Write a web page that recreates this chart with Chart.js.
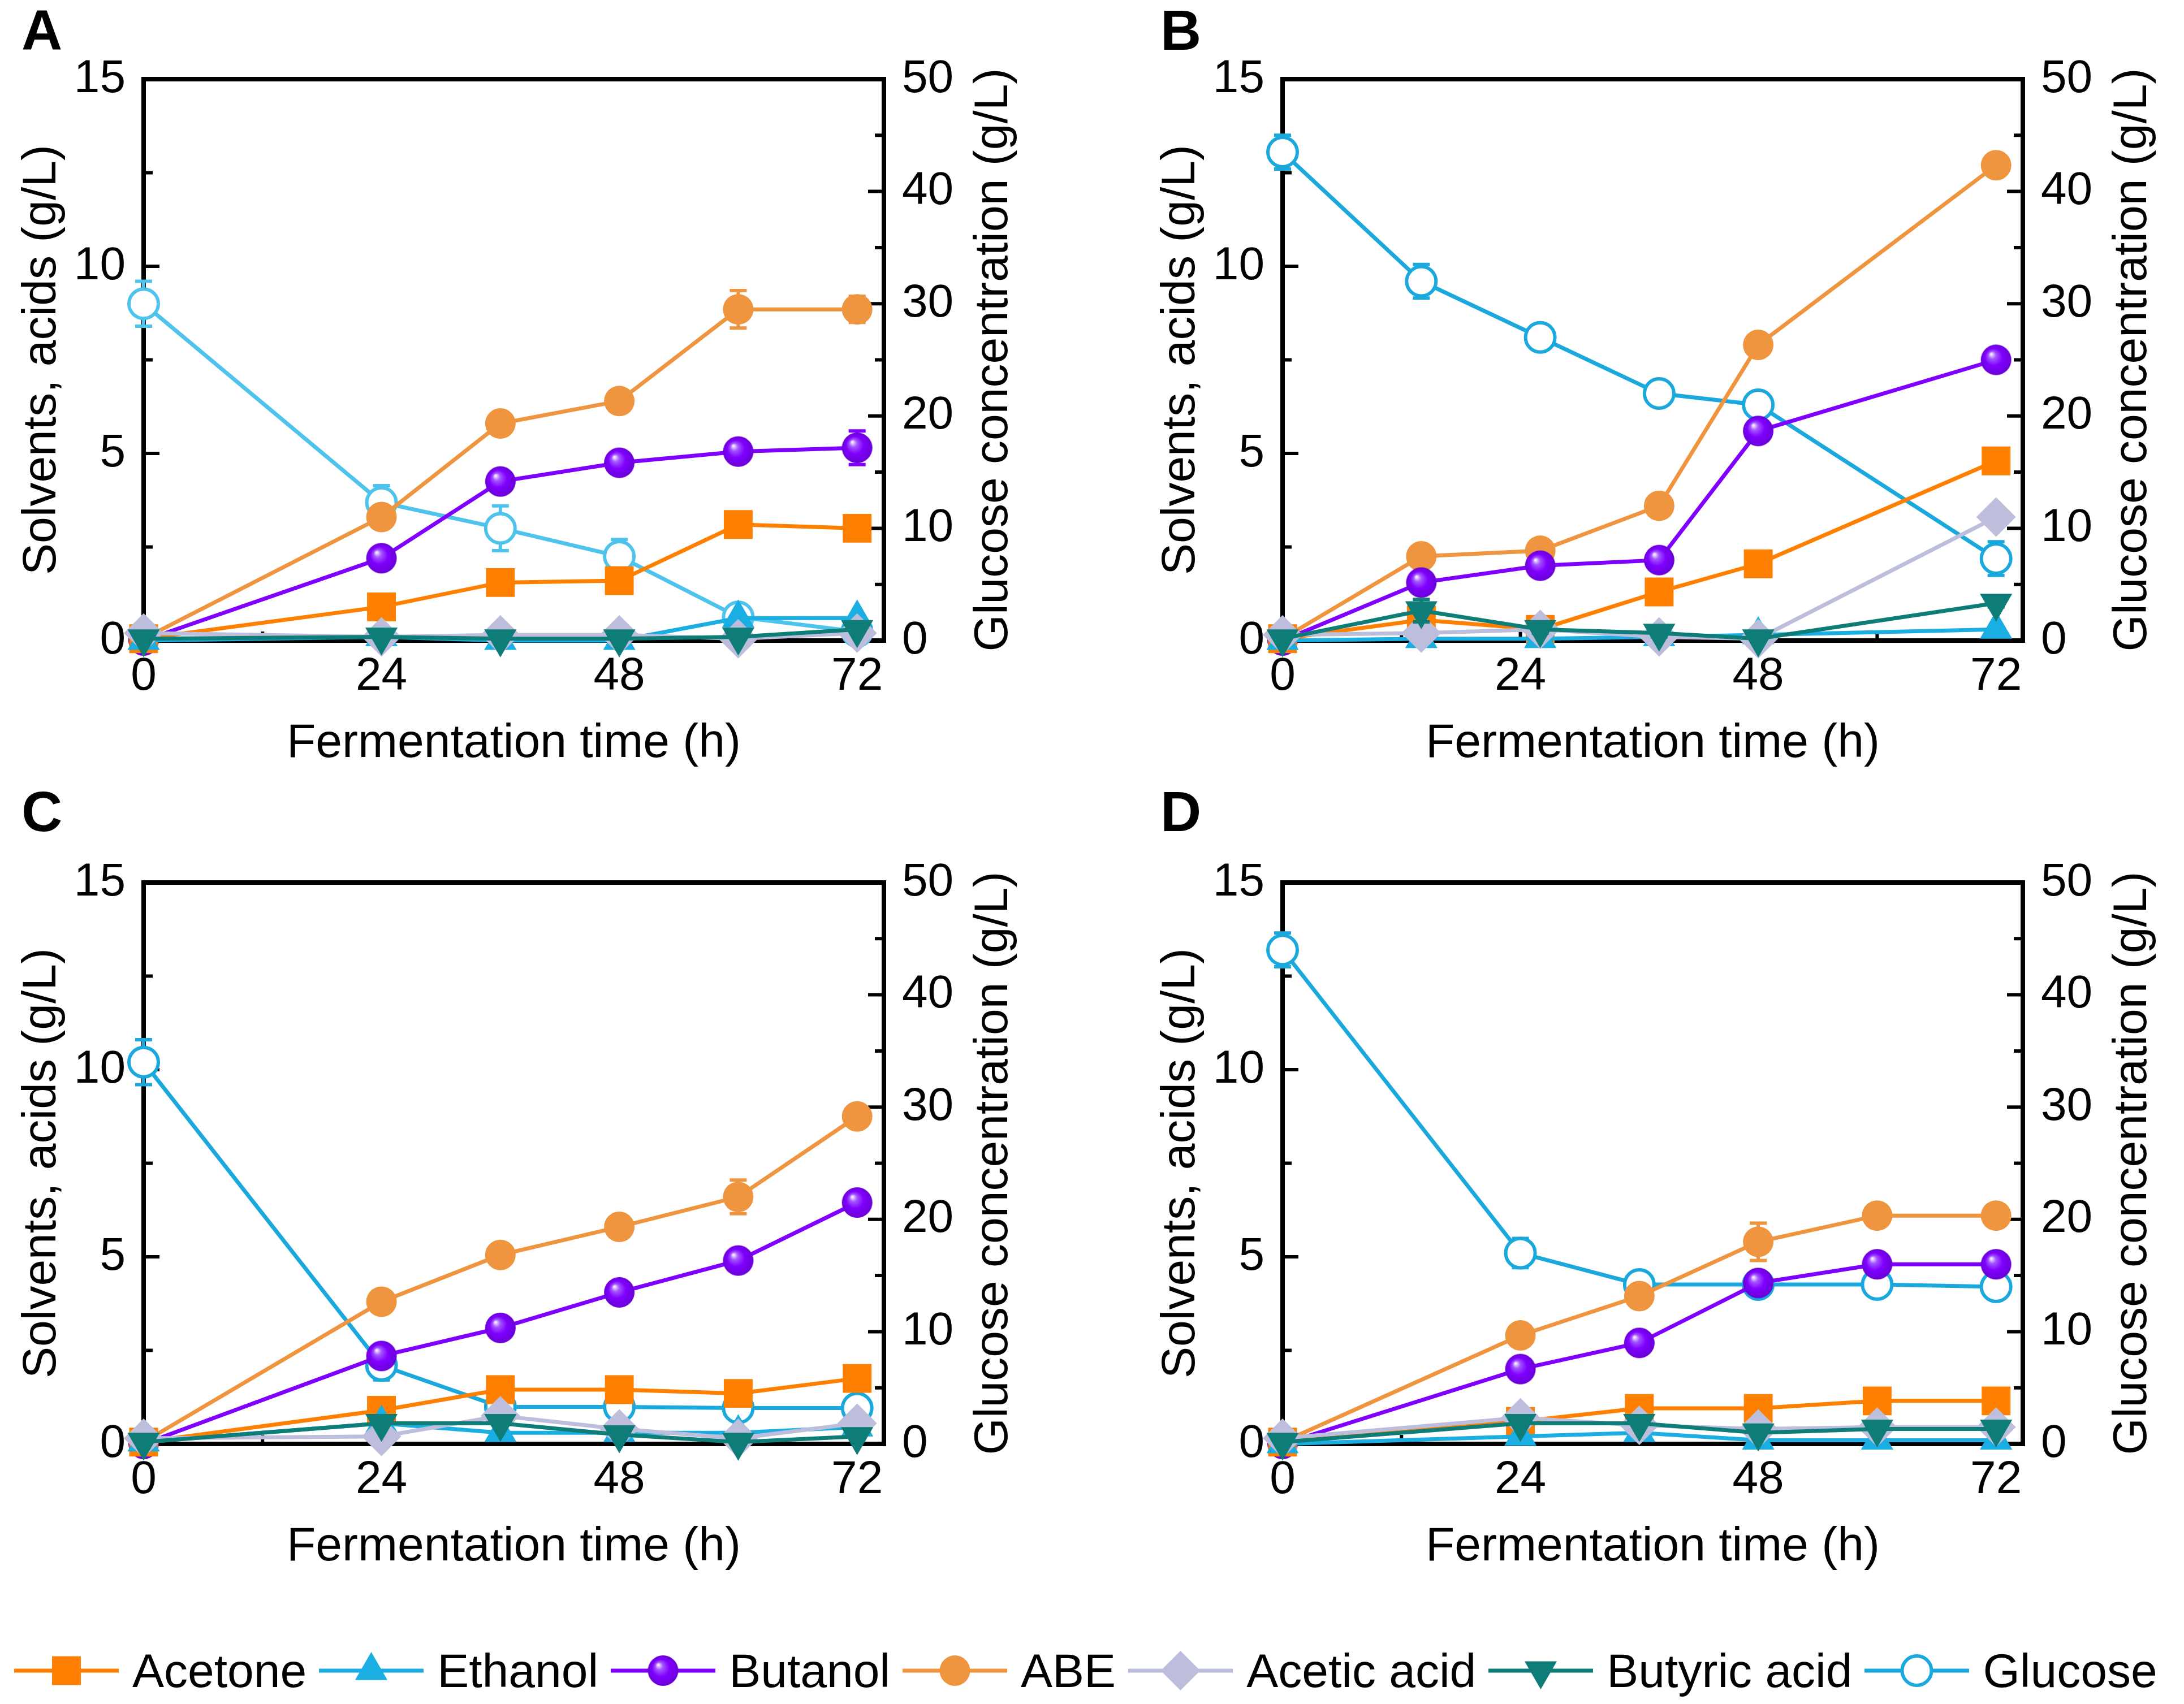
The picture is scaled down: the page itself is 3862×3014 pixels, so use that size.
<!DOCTYPE html>
<html lang="en">
<head>
<meta charset="UTF-8">
<title>ABE fermentation profiles</title>
<script src="https://cdn.jsdelivr.net/npm/chart.js"></script>
<style>
  html, body { margin: 0; padding: 0; background: #fff; }
  body {
    width: 3862px;
    height: 3014px;
    position: relative;
    overflow: hidden;
    font-family: "Liberation Sans", Arial, sans-serif;
    color: #000;
  }
  .panel { position: absolute; width: 1853px; height: 1400px; }
  .letter { position: absolute; font-weight: bold; font-size: 100px; line-height: 100px; }
  #legend { position: absolute; left: 25px; top: 2913px; display: flex; align-items: center; }
  .item { display: flex; align-items: center; margin-right: 22px; }
  .item canvas { margin-right: 24px; }
  .item span { font-size: 84px; line-height: 84px; white-space: nowrap; }
</style>
</head>
<body>

  <div class="letter" style="left:38px; top:3px;">A</div>
  <div class="letter" style="left:2052px; top:3px;">B</div>
  <div class="letter" style="left:38px; top:1385px;">C</div>
  <div class="letter" style="left:2052px; top:1385px;">D</div>

  <div class="panel" style="left:0; top:0;"><canvas id="chartA" width="1853" height="1400"></canvas></div>
  <div class="panel" style="left:2014px; top:0;"><canvas id="chartB" width="1853" height="1400"></canvas></div>
  <div class="panel" style="left:0; top:1421px;"><canvas id="chartC" width="1853" height="1400"></canvas></div>
  <div class="panel" style="left:2014px; top:1421px;"><canvas id="chartD" width="1853" height="1400"></canvas></div>

  <div id="legend"></div>

<script>
// sampling times (h)
const timesA = [0, 24, 36, 48, 60, 72];
const timesB = [0, 14, 26, 38, 48, 72];
const timesC = [0, 24, 36, 48, 60, 72];
const timesD = [0, 24, 36, 48, 60, 72];

// tick positions
const xTicks = [0, 12, 24, 36, 48, 60, 72];
const yTicks = [0, 2.5, 5, 7.5, 10, 12.5, 15];
const y1Ticks = [0, 5, 10, 15, 20, 25, 30, 35, 40, 45, 50];

const seriesNames = ['Acetone', 'Ethanol', 'Butanol', 'ABE', 'Acetic acid', 'Butyric acid', 'Glucose'];

// panel A
const acetoneA = [0.05, 0.9, 1.55, 1.6, 3.1, 3.0];
const ethanolA = [0.0, 0.1, 0.0, 0.0, 0.6, 0.6];
const butanolA = [0.0, 2.2, 4.25, 4.75, 5.05, 5.15];
const abeA     = [0.05, 3.3, 5.8, 6.4, 8.85, 8.85];
const aceticA  = [0.2, 0.1, 0.15, 0.15, 0.05, 0.2];
const butyricA = [0.05, 0.1, 0.05, 0.05, 0.1, 0.3];
const glucoseA = [30.0, 12.3, 10.0, 7.5, 2.1, 0.8];
const glucoseErrA = [2.0, 1.5, 2.0, 1.5, 0.3, 0.3];
const abeErrA     = [0, 0.2, 0.2, 0.3, 0.5, 0.35];
const butanolErrA = [0, 0.2, 0.2, 0.25, 0.3, 0.45];
const acetoneErrA = [0, 0.15, 0.2, 0.2, 0.2, 0.2];

// panel B
const acetoneB = [0.05, 0.55, 0.3, 1.3, 2.05, 4.8];
const ethanolB = [0.0, 0.05, 0.05, 0.1, 0.15, 0.3];
const butanolB = [0.0, 1.55, 2.0, 2.15, 5.6, 7.5];
const abeB     = [0.05, 2.25, 2.4, 3.6, 7.9, 12.7];
const aceticB  = [0.15, 0.2, 0.3, 0.1, 0.05, 3.3];
const butyricB = [0.05, 0.8, 0.3, 0.2, 0.05, 1.0];
const glucoseB = [43.5, 32.0, 27.0, 22.0, 21.0, 7.3];
const glucoseErrB = [1.5, 1.5, 1.0, 1.0, 1.0, 1.5];
const abeErrB     = [0, 0.2, 0.2, 0.2, 0.2, 0.2];
const butanolErrB = [0, 0.2, 0.2, 0.2, 0.25, 0.2];
const acetoneErrB = [0, 0.2, 0.2, 0.2, 0.2, 0.2];
const butyricErrB = [0, 0.3, 0.1, 0.1, 0.05, 0.1];

// panel C
const acetoneC = [0.05, 0.9, 1.45, 1.45, 1.35, 1.75];
const ethanolC = [0.05, 0.55, 0.3, 0.3, 0.3, 0.45];
const butanolC = [0.0, 2.35, 3.1, 4.05, 4.9, 6.45];
const abeC     = [0.05, 3.8, 5.05, 5.8, 6.6, 8.75];
const aceticC  = [0.15, 0.2, 0.75, 0.4, 0.15, 0.55];
const butyricC = [0.05, 0.55, 0.55, 0.25, 0.05, 0.2];
const glucoseC = [34.0, 7.0, 3.3, 3.3, 3.2, 3.2];
const glucoseErrC = [2.0, 1.3, 0.3, 0.5, 0.5, 0.8];
const abeErrC     = [0, 0.25, 0.2, 0.2, 0.45, 0.2];
const butanolErrC = [0, 0.2, 0.2, 0.2, 0.2, 0.2];
const acetoneErrC = [0, 0.15, 0.15, 0.15, 0.15, 0.15];

// panel D
const acetoneD = [0.05, 0.6, 0.95, 0.95, 1.15, 1.15];
const ethanolD = [0.0, 0.2, 0.3, 0.1, 0.1, 0.1];
const butanolD = [0.0, 2.0, 2.7, 4.3, 4.8, 4.8];
const abeD     = [0.05, 2.9, 3.95, 5.4, 6.1, 6.1];
const aceticD  = [0.15, 0.7, 0.5, 0.4, 0.45, 0.45];
const butyricD = [0.05, 0.55, 0.55, 0.3, 0.4, 0.4];
const glucoseD = [44.0, 17.0, 14.2, 14.2, 14.2, 14.0];
const glucoseErrD = [1.5, 1.3, 0.8, 0.8, 0.8, 0.8];
const abeErrD     = [0, 0.2, 0.3, 0.5, 0.25, 0.25];
const butanolErrD = [0, 0.2, 0.2, 0.2, 0.2, 0.2];
const acetoneErrD = [0, 0.15, 0.1, 0.15, 0.2, 0.2];

Chart.defaults.font.family = '"Liberation Sans", Arial, sans-serif';
Chart.defaults.color = '#000';

// shaded purple ball for butanol
function makeSphere(r) {
  const c = document.createElement('canvas');
  c.width = c.height = 2 * r + 2;
  const g = c.getContext('2d');
  const cx = r + 1, cy = r + 1;
  const grad = g.createRadialGradient(cx - r * 0.32, cy - r * 0.38, r * 0.04, cx, cy, r);
  grad.addColorStop(0, '#f6ecff');
  grad.addColorStop(0.22, '#a455ff');
  grad.addColorStop(0.55, '#8000ff');
  grad.addColorStop(1, '#6a00d6');
  g.fillStyle = grad;
  g.beginPath();
  g.arc(cx, cy, r, 0, Math.PI * 2);
  g.fill();
  return c;
}
const sphere = makeSphere(27);

const styles = {
  'Acetone':      { color: '#ff7f00', pointStyle: 'rect', radius: 36, order: 4 },
  'Ethanol':      { color: '#1aaee3', pointStyle: 'triangle', radius: 33, order: 3 },
  'Butanol':      { color: '#8000ff', pointStyle: sphere, radius: 27, order: 5 },
  'ABE':          { color: '#f0953f', pointStyle: 'circle', radius: 27, order: 6 },
  'Acetic acid':  { color: '#bdbddc', pointStyle: 'rectRot', radius: 35, order: 2 },
  'Butyric acid': { color: '#0e7d77', pointStyle: 'triangle', rotation: 180, radius: 33, order: 1 },
  'Glucose':      { color: '#1ba8dc', pointStyle: 'circle', radius: 26, open: true, order: 7 }
};

function buildDatasets(times, values, errors, glucoseColor) {
  return seriesNames.map(name => {
    const s = styles[name];
    const color = (name === 'Glucose' && glucoseColor) ? glucoseColor : s.color;
    return {
      label: name,
      data: times.map((t, i) => ({ x: t, y: values[name][i] })),
      errors: errors[name] || null,
      yAxisID: name === 'Glucose' ? 'y1' : 'y',
      borderColor: color,
      borderWidth: 7,
      tension: 0,
      pointStyle: s.pointStyle,
      pointRotation: s.rotation || 0,
      pointRadius: s.radius,
      pointBackgroundColor: s.open ? '#ffffff' : color,
      pointBorderColor: color,
      pointBorderWidth: s.open ? 6 : 0,
      order: s.order,
      clip: false
    };
  });
}

// error bars drawn under each series
const errorBars = {
  id: 'errorBars',
  beforeDatasetDraw(chart, args) {
    const ds = chart.data.datasets[args.index];
    if (!ds.errors) return;
    const yScale = chart.scales[ds.yAxisID];
    const ctx = chart.ctx;
    ctx.save();
    ctx.strokeStyle = ds.borderColor;
    ctx.lineWidth = 6;
    ds.data.forEach((p, i) => {
      const e = ds.errors[i];
      if (!e) return;
      const x = args.meta.data[i].x;
      const top = yScale.getPixelForValue(p.y + e);
      const bot = yScale.getPixelForValue(p.y - e);
      ctx.beginPath();
      ctx.moveTo(x, top); ctx.lineTo(x, bot);
      ctx.moveTo(x - 15, top); ctx.lineTo(x + 15, top);
      ctx.moveTo(x - 15, bot); ctx.lineTo(x + 15, bot);
      ctx.stroke();
    });
    ctx.restore();
  }
};

// box frame with inward ticks, and the right-hand title read bottom to top
const frame = {
  id: 'frame',
  beforeDatasetsDraw(chart) {
    const { ctx, chartArea: a, scales } = chart;
    ctx.save();
    ctx.strokeStyle = '#000';
    ctx.lineWidth = 6;
    ctx.beginPath();
    scales.x.ticks.forEach(t => {
      const px = scales.x.getPixelForValue(t.value);
      const len = t.value % 24 === 0 ? 28 : 16;
      ctx.moveTo(px, a.bottom); ctx.lineTo(px, a.bottom - len);
    });
    scales.y.ticks.forEach(t => {
      const py = scales.y.getPixelForValue(t.value);
      const len = t.value % 5 === 0 ? 28 : 16;
      ctx.moveTo(a.left, py); ctx.lineTo(a.left + len, py);
    });
    scales.y1.ticks.forEach(t => {
      const py = scales.y1.getPixelForValue(t.value);
      const len = t.value % 10 === 0 ? 28 : 16;
      ctx.moveTo(a.right, py); ctx.lineTo(a.right - len, py);
    });
    ctx.stroke();
    ctx.lineWidth = 8;
    ctx.strokeRect(a.left, a.top, a.right - a.left, a.bottom - a.top);
    ctx.restore();
  },
  afterDraw(chart, args, opts) {
    const { ctx, chartArea: a } = chart;
    ctx.save();
    ctx.translate(a.right + 195, (a.top + a.bottom) / 2);
    ctx.rotate(-Math.PI / 2);
    ctx.fillStyle = '#000';
    ctx.font = '84px "Liberation Sans", Arial, sans-serif';
    ctx.textAlign = 'center';
    ctx.textBaseline = 'middle';
    ctx.fillText(opts.text, 0, 0);
    ctx.restore();
  }
};

function makeChart(id, times, values, errors, glucoseColor) {
  return new Chart(document.getElementById(id), {
    type: 'line',
    data: { datasets: buildDatasets(times, values, errors, glucoseColor) },
    plugins: [errorBars, frame],
    options: {
      responsive: false,
      animation: false,
      events: [],
      layout: { padding: { top: 140, left: 0, right: 0, bottom: 0 } },
      plugins: {
        legend: { display: false },
        tooltip: { enabled: false },
        frame: { text: 'Glucose concentration (g/L)' }
      },
      scales: {
        x: {
          type: 'linear',
          min: 0,
          max: 74.7,
          afterBuildTicks: s => { s.ticks = xTicks.map(v => ({ value: v })); },
          afterFit: s => { s.height = 267; },
          grid: { display: false, drawTicks: false },
          border: { display: false },
          ticks: {
            autoSkip: false, maxRotation: 0, padding: 15,
            font: { size: 82 },
            callback: v => (v % 24 === 0 ? String(v) : '')
          },
          title: {
            display: true, text: 'Fermentation time (h)',
            font: { size: 84 }, padding: { top: 0, bottom: 34 }
          }
        },
        y: {
          position: 'left',
          min: 0,
          max: 15,
          afterBuildTicks: s => { s.ticks = yTicks.map(v => ({ value: v })); },
          afterFit: s => { s.width = 254; },
          grid: { display: false, drawTicks: false },
          border: { display: false },
          ticks: {
            autoSkip: false, padding: 32,
            font: { size: 82 },
            callback: v => (v % 5 === 0 ? String(v) : '')
          },
          title: {
            display: true, text: 'Solvents, acids (g/L)',
            font: { size: 84 }, padding: { top: 24, bottom: 0 }
          }
        },
        y1: {
          position: 'right',
          min: 0,
          max: 50,
          afterBuildTicks: s => { s.ticks = y1Ticks.map(v => ({ value: v })); },
          afterFit: s => { s.width = 290; },
          grid: { display: false, drawTicks: false },
          border: { display: false },
          ticks: {
            autoSkip: false, padding: 32,
            font: { size: 82 },
            callback: v => (v % 10 === 0 ? String(v) : '')
          }
        }
      }
    }
  });
}

makeChart('chartA', timesA,
  { 'Acetone': acetoneA, 'Ethanol': ethanolA, 'Butanol': butanolA, 'ABE': abeA,
    'Acetic acid': aceticA, 'Butyric acid': butyricA, 'Glucose': glucoseA },
  { 'Glucose': glucoseErrA, 'ABE': abeErrA, 'Butanol': butanolErrA, 'Acetone': acetoneErrA },
  '#4ec3ec');

makeChart('chartB', timesB,
  { 'Acetone': acetoneB, 'Ethanol': ethanolB, 'Butanol': butanolB, 'ABE': abeB,
    'Acetic acid': aceticB, 'Butyric acid': butyricB, 'Glucose': glucoseB },
  { 'Glucose': glucoseErrB, 'ABE': abeErrB, 'Butanol': butanolErrB, 'Acetone': acetoneErrB,
    'Butyric acid': butyricErrB });

makeChart('chartC', timesC,
  { 'Acetone': acetoneC, 'Ethanol': ethanolC, 'Butanol': butanolC, 'ABE': abeC,
    'Acetic acid': aceticC, 'Butyric acid': butyricC, 'Glucose': glucoseC },
  { 'Glucose': glucoseErrC, 'ABE': abeErrC, 'Butanol': butanolErrC, 'Acetone': acetoneErrC });

makeChart('chartD', timesD,
  { 'Acetone': acetoneD, 'Ethanol': ethanolD, 'Butanol': butanolD, 'ABE': abeD,
    'Acetic acid': aceticD, 'Butyric acid': butyricD, 'Glucose': glucoseD },
  { 'Glucose': glucoseErrD, 'ABE': abeErrD, 'Butanol': butanolErrD, 'Acetone': acetoneErrD });

// shared legend along the bottom
const legend = document.getElementById('legend');
seriesNames.forEach(name => {
  const s = styles[name];
  const item = document.createElement('div');
  item.className = 'item';
  const icon = document.createElement('canvas');
  icon.width = 185;
  icon.height = 80;
  const ctx = icon.getContext('2d');
  ctx.strokeStyle = s.color;
  ctx.lineWidth = 7;
  ctx.beginPath();
  ctx.moveTo(0, 40);
  ctx.lineTo(185, 40);
  ctx.stroke();
  ctx.fillStyle = s.open ? '#ffffff' : s.color;
  ctx.lineWidth = 6;
  Chart.helpers.drawPoint(ctx, {
    pointStyle: s.pointStyle,
    rotation: s.rotation || 0,
    radius: s.radius,
    borderWidth: s.open ? 6 : 0
  }, 92.5, 40);
  const label = document.createElement('span');
  label.textContent = name;
  item.appendChild(icon);
  item.appendChild(label);
  legend.appendChild(item);
});
</script>
</body>
</html>
